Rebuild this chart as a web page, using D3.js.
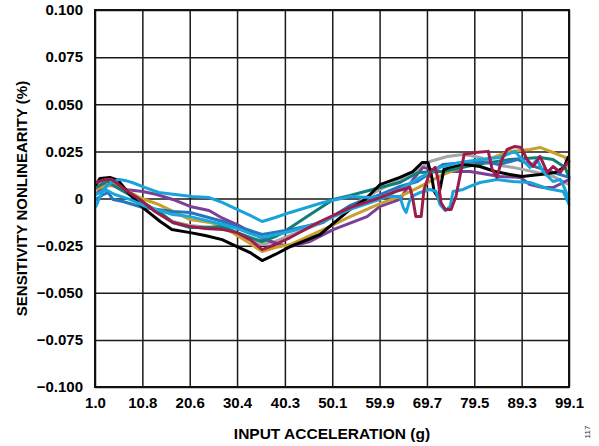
<!DOCTYPE html>
<html lang="en">
<head>
    <meta charset="UTF-8">
    <title>Sensitivity nonlinearity</title>
    <script src="https://d3js.org/d3.v7.min.js"></script>
    <style>
        body { margin: 0; background: #ffffff; }
        svg text { font-family: "Liberation Sans", Arial, sans-serif; }
    </style>
</head>
<body>
    <svg width="599" height="446"></svg>

    <script>
        // tick values
        const xTicks = [1.0, 10.8, 20.6, 30.4, 40.3, 50.1, 59.9, 69.7, 79.5, 89.3, 99.1];
        const yTicks = [-0.1, -0.075, -0.05, -0.025, 0, 0.025, 0.05, 0.075, 0.1];

        // one [acceleration g, nonlinearity %] list per part
        const grayData = [[1.2,0.0069],[4.1,0.0096],[7.2,0.0048],[10.9,-0.0021],[17.1,-0.0122],[20.7,-0.0143],[27.5,-0.0159],[30.4,-0.0186],[33.1,-0.0218],[35.6,-0.0244],[38.3,-0.0228],[41.4,-0.0196],[47.6,-0.0133],[53.8,-0.0042],[60.0,0.0048],[66.2,0.0127],[70.3,0.0196],[73.9,0.0223],[77.2,0.0234],[80.7,0.0218],[84.8,0.0175],[87.5,0.0165],[92.5,0.0138],[95.8,0.0117],[99.1,0.0074]];
        const purpleData = [[1.2,0.0021],[2.7,0.0064],[4.1,0.0074],[7.2,0.0048],[10.9,0.0037],[13.8,0.0021],[17.1,-0.0005],[20.7,-0.0042],[24.6,-0.0064],[27.5,-0.0106],[30.4,-0.0138],[33.1,-0.0175],[35.6,-0.0212],[39.3,-0.0244],[41.4,-0.0255],[45.5,-0.0228],[50.3,-0.0165],[57.3,-0.0096],[60.0,-0.0042],[64.1,-0.0005],[66.8,0.0101],[68.9,0.0165],[72.4,0.0143],[78.6,0.0143],[84.8,0.0117],[89.0,0.0112],[91.0,0.0074],[93.7,0.0058],[95.8,0.0058],[97.9,0.0085],[99.1,0.0101]];
        const goldData = [[1.2,0.0048],[2.7,0.0064],[4.5,0.0069],[7.2,0.0048],[10.7,0.0],[14.2,-0.0032],[17.6,-0.0074],[20.7,-0.0112],[24.8,-0.0127],[27.9,-0.0154],[30.4,-0.0196],[33.1,-0.0239],[35.6,-0.0281],[38.3,-0.0260],[41.4,-0.0244],[48.2,-0.0165],[53.8,-0.0096],[60.0,-0.0027],[64.1,0.0011],[67.9,0.0058],[73.0,0.0127],[80.1,0.0196],[83.4,0.0218],[86.9,0.0250],[91.0,0.0260],[93.1,0.0271],[95.8,0.0244],[98.3,0.0218],[99.1,0.0165]];
        const tealData = [[1.2,0.0058],[3.5,0.0090],[6.2,0.0048],[10.9,-0.0021],[14.5,-0.0074],[17.1,-0.0127],[20.7,-0.0154],[23.8,-0.0154],[27.5,-0.0149],[30.4,-0.0181],[33.1,-0.0207],[35.6,-0.0228],[38.3,-0.0202],[39.9,-0.0181],[44.9,-0.0096],[50.3,-0.0005],[53.8,0.0016],[60.0,0.0058],[64.1,0.0085],[67.9,0.0138],[73.0,0.0143],[80.1,0.0181],[86.9,0.0207],[93.1,0.0218],[95.8,0.0207],[98.3,0.0165],[99.1,0.0112]];
        const blueData = [[1.2,-0.0005],[2.7,0.0021],[3.7,0.0032],[4.7,-0.0005],[6.8,-0.0016],[10.9,-0.0048],[17.1,-0.0069],[20.7,-0.0074],[27.5,-0.0122],[30.4,-0.0149],[33.1,-0.0170],[35.6,-0.0191],[41.4,-0.0165],[48.2,-0.0127],[53.8,-0.0037],[60.0,0.0021],[64.1,0.0064],[67.7,0.0090],[73.0,0.0181],[80.1,0.0196],[84.8,0.0181],[88.4,0.0207],[92.5,0.0165],[95.2,0.0143],[99.1,0.0112]];
        const blackData = [[1.2,0.0074],[2.0,0.0106],[4.1,0.0112],[5.8,0.0096],[8.2,0.0021],[10.9,-0.0048],[14.5,-0.0122],[16.9,-0.0165],[20.7,-0.0181],[23.8,-0.0196],[27.3,-0.0218],[30.4,-0.0255],[33.1,-0.0287],[35.6,-0.0329],[38.3,-0.0297],[41.4,-0.0255],[47.6,-0.0191],[53.8,-0.0058],[56.9,-0.0005],[60.0,0.0074],[64.1,0.0112],[66.8,0.0143],[68.7,0.0191],[69.9,0.0191],[70.6,0.0127],[71.2,0.0037],[72.0,0.0005],[72.6,0.0074],[73.2,0.0154],[74.5,0.0165],[77.2,0.0181],[80.7,0.0170],[83.8,0.0143],[86.9,0.0127],[89.4,0.0117],[93.1,0.0127],[96.2,0.0138],[98.1,0.0165],[98.9,0.0218]];
        const cyanBData = [[1.2,0.0021],[3.1,0.0048],[5.1,0.0021],[8.2,-0.0005],[10.9,-0.0037],[17.1,-0.0085],[20.7,-0.0096],[27.5,-0.0138],[30.4,-0.0159],[33.1,-0.0186],[35.6,-0.0207],[41.4,-0.0175],[48.2,-0.0122],[53.8,-0.0058],[60.0,-0.0005],[64.1,0.0048],[68.3,0.0112],[72.4,0.0165],[76.6,0.0191],[80.7,0.0207],[84.8,0.0218],[87.9,0.0250],[89.4,0.0207],[91.0,0.0165],[92.5,0.0207],[93.7,0.0143],[95.8,0.0090],[97.3,0.0101],[98.3,0.0048],[99.1,-0.0005]];
        const cyanAData = [[1.2,-0.0042],[1.8,-0.0005],[2.4,0.0032],[3.5,0.0069],[4.5,0.0085],[6.0,0.0101],[7.2,0.0096],[8.7,0.0085],[11.4,0.0058],[14.2,0.0032],[17.6,0.0021],[21.1,0.0011],[24.6,0.0005],[27.3,-0.0021],[30.4,-0.0058],[33.1,-0.0090],[35.6,-0.0122],[38.3,-0.0101],[41.4,-0.0074],[48.2,-0.0021],[53.8,0.0011],[57.9,0.0005],[61.0,0.0011],[64.1,0.0011],[64.8,-0.0048],[65.4,-0.0074],[66.0,-0.0021],[66.6,0.0011],[68.3,0.0032],[70.3,0.0048],[71.6,0.0037],[72.4,-0.0032],[73.5,-0.0064],[74.5,-0.0042],[75.1,0.0037],[77.2,0.0048],[78.6,0.0064],[80.7,0.0085],[84.2,0.0101],[87.5,0.0090],[91.0,0.0085],[94.6,0.0053],[97.9,0.0037],[98.5,0.0005],[99.1,-0.0032]];
        const crimsonData = [[1.2,0.0085],[3.1,0.0101],[4.5,0.0101],[7.2,0.0048],[10.3,-0.0005],[13.4,-0.0069],[17.1,-0.0127],[20.7,-0.0149],[23.8,-0.0159],[27.5,-0.0165],[30.4,-0.0181],[33.1,-0.0218],[35.6,-0.0271],[38.3,-0.0244],[41.4,-0.0207],[47.6,-0.0122],[53.8,-0.0048],[60.0,0.0005],[63.1,0.0037],[66.2,0.0058],[66.8,-0.0005],[67.4,-0.0096],[68.5,-0.0096],[69.1,0.0048],[70.3,0.0138],[71.4,0.0165],[72.0,0.0101],[72.6,-0.0021],[73.5,-0.0058],[74.7,-0.0058],[75.7,0.0011],[76.6,0.0127],[77.4,0.0234],[79.7,0.0244],[82.4,0.0250],[83.2,0.0154],[84.2,0.0112],[85.2,0.0207],[86.3,0.0260],[87.9,0.0276],[89.2,0.0271],[90.4,0.0207],[91.7,0.0170],[93.1,0.0223],[94.6,0.0138],[95.8,0.0170],[97.3,0.0138],[98.5,0.0181],[99.1,0.0196]];

        // drawing order (last on top) and colours
        const seriesList = [grayData, purpleData, goldData, tealData, blueData, blackData, cyanBData, cyanAData, crimsonData];
        const seriesColors = ["#a6a6a6", "#7b3f98", "#c9a02e", "#0f7f7a", "#2277c0", "#000000", "#1ba6dc", "#18a4da", "#9e1c4b"];

        const svgElement = d3.select("svg");

        // plot area
        const plotLeft = 95, plotRight = 569, plotTop = 10, plotBottom = 387;

        const xScale = d3.scaleLinear().domain([1.0, 99.1]).range([plotLeft, plotRight]);
        const yScale = d3.scaleLinear().domain([-0.1, 0.1]).range([plotBottom, plotTop]);

        // x axis with grid lines
        const xAxis = svgElement.append("g")
            .attr("transform", "translate(0," + plotBottom + ")")
            .call(d3.axisBottom(xScale)
                .tickValues(xTicks)
                .tickSize(-(plotBottom - plotTop))
                .tickPadding(10)
                .tickFormat(d3.format(".1f")));

        // y axis with grid lines
        const yAxis = svgElement.append("g")
            .attr("transform", "translate(" + plotLeft + ",0)")
            .call(d3.axisLeft(yScale)
                .tickValues(yTicks)
                .tickSize(-(plotRight - plotLeft))
                .tickPadding(12)
                .tickFormat(d => d === 0 ? "0" : d3.format(".3f")(d)));

        [xAxis, yAxis].forEach(axis => {
            axis.select(".domain").remove();
            axis.selectAll(".tick line")
                .attr("stroke", "#1a1a1a")
                .attr("stroke-width", 1.5);
            axis.selectAll(".tick text")
                .attr("fill", "#000")
                .attr("font-size", "15px")
                .attr("font-weight", "bold");
        });

        // plotting the lines
        const lineGen = d3.line()
            .x(d => xScale(d[0]))
            .y(d => yScale(d[1]));

        seriesList.forEach((data, i) => {
            svgElement.append("path")
                .attr("d", lineGen(data))
                .attr("fill", "none")
                .attr("stroke", seriesColors[i])
                .attr("stroke-width", 3)
                .attr("stroke-linejoin", "round")
                .attr("stroke-linecap", "round");
        });

        // frame
        svgElement.append("rect")
            .attr("x", plotLeft)
            .attr("y", plotTop)
            .attr("width", plotRight - plotLeft)
            .attr("height", plotBottom - plotTop)
            .attr("fill", "none")
            .attr("stroke", "#111")
            .attr("stroke-width", 2);

        // axes names
        svgElement.append("text")
            .attr("x", 332)
            .attr("y", 439)
            .attr("text-anchor", "middle")
            .attr("font-size", "15.5px")
            .attr("font-weight", "bold")
            .text("INPUT ACCELERATION (g)");

        svgElement.append("text")
            .attr("transform", "translate(27," + (plotTop + plotBottom) / 2 + ") rotate(-90)")
            .attr("text-anchor", "middle")
            .attr("font-size", "15px")
            .attr("font-weight", "bold")
            .text("SENSITIVITY NONLINEARITY (%)");

        // figure number
        svgElement.append("text")
            .attr("transform", "translate(590,432) rotate(-90)")
            .attr("text-anchor", "middle")
            .attr("font-size", "8px")
            .attr("fill", "#333")
            .text("117");
    </script>
</body>
</html>
